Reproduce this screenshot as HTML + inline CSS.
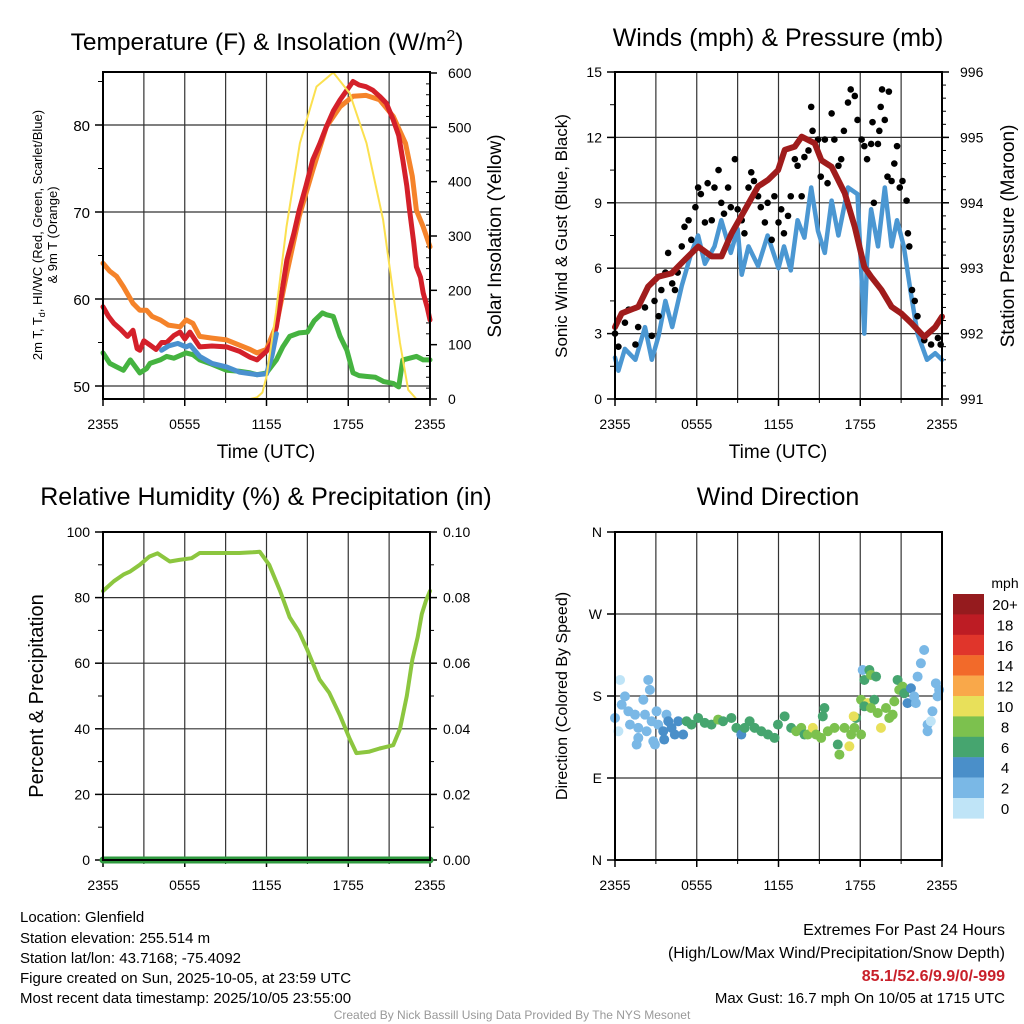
<!DOCTYPE html>
<html><head><meta charset="utf-8">
<style>
html,body{margin:0;padding:0;background:#fff;}
svg{display:block;font-family:"Liberation Sans",sans-serif;}
</style></head>
<body>
<svg id="chart" width="1024" height="1024" viewBox="0 0 1024 1024" xmlns="http://www.w3.org/2000/svg">
<rect x="0" y="0" width="1024" height="1024" fill="#fff"/>
<g id="layer"></g>
<text x="267" y="50" font-size="24.5" text-anchor="middle">Temperature (F) &amp; Insolation (W/m<tspan dy="-9" font-size="16">2</tspan><tspan dy="9">)</tspan></text>
<text x="778" y="46" font-size="25" text-anchor="middle">Winds (mph) &amp; Pressure (mb)</text>
<text x="266" y="505" font-size="25" text-anchor="middle">Relative Humidity (%) &amp; Precipitation (in)</text>
<text x="778" y="505" font-size="25" text-anchor="middle">Wind Direction</text>
<text x="266" y="458" font-size="19" text-anchor="middle">Time (UTC)</text>
<text x="778" y="458" font-size="19" text-anchor="middle">Time (UTC)</text>
<text transform="translate(42,235) rotate(-90)" font-size="13" text-anchor="middle">2m T, T<tspan dy="3" font-size="9">d</tspan><tspan dy="-3">, HI/WC (Red, Green, Scarlet/Blue)</tspan></text>
<text transform="translate(57,235) rotate(-90)" font-size="13" text-anchor="middle">&amp; 9m T (Orange)</text>
<text transform="translate(501,236) rotate(-90)" font-size="19" text-anchor="middle">Solar Insolation (Yellow)</text>
<text transform="translate(567,236) rotate(-90)" font-size="17" text-anchor="middle">Sonic Wind &amp; Gust (Blue, Black)</text>
<text transform="translate(1014,236) rotate(-90)" font-size="19" text-anchor="middle">Station Pressure (Maroon)</text>
<text transform="translate(43,696) rotate(-90)" font-size="20" text-anchor="middle">Percent &amp; Precipitation</text>
<text transform="translate(567,696) rotate(-90)" font-size="16" text-anchor="middle">Direction (Colored By Speed)</text>
<g font-size="15">
<text x="20" y="922">Location: Glenfield</text>
<text x="20" y="943">Station elevation: 255.514 m</text>
<text x="20" y="963">Station lat/lon: 43.7168; -75.4092</text>
<text x="20" y="983">Figure created on Sun, 2025-10-05, at 23:59 UTC</text>
<text x="20" y="1003">Most recent data timestamp: 2025/10/05 23:55:00</text>
</g>
<g font-size="16" text-anchor="end">
<text x="1005" y="935">Extremes For Past 24 Hours</text>
<text x="1005" y="958">(High/Low/Max Wind/Precipitation/Snow Depth)</text>
<text x="1005" y="981" fill="#c8202a" font-weight="bold">85.1/52.6/9.9/0/-999</text>
<text x="1005" y="1003" font-size="15">Max Gust: 16.7 mph On 10/05 at 1715 UTC</text>
</g>
<text x="512" y="1019" font-size="12" fill="#999" text-anchor="middle">Created By Nick Bassill Using Data Provided By The NYS Mesonet</text>
</svg>
<script>
// ---- data ----
const redHours=[0,0.4,0.8,1.3,1.8,2.2,2.5,2.7,3.0,3.45,3.9,4.3,4.67,5.2,5.65,6.0,6.38,6.8,7.1,8.0,9.07,10.0,10.8,11.3,12.0,12.4,12.73,13.1,13.5,14.0,14.4,14.9,15.4,15.9,16.4,16.9,17.4,17.9,18.35,18.8,19.3,19.8,20.3,20.8,21.3,21.7,22.0,22.3,22.5,22.8,23.0,23.3,23.5,23.8,24];
const redTemp=[59.1,58.0,57.2,56.5,55.7,56.4,54.3,54.1,55.2,54.7,54.2,55.0,55.0,55.8,56.2,55.4,56.2,55.2,54.5,54.6,54.5,54.0,53.3,53.0,54.0,55.0,56.8,60.5,64.5,67.5,70.2,73.0,76.0,77.8,79.8,81.6,82.9,84.0,85.0,84.6,84.4,84.0,83.3,82.5,80.6,78.8,76.0,73.0,70.2,66.5,63.7,62.5,60.7,59.0,57.6];
const orangeHours=[0,0.5,1.0,1.5,2.2,2.7,3.2,3.6,4.2,4.8,5.65,6.1,6.6,7.1,8.0,9.07,10.0,10.8,11.3,12.0,12.73,13.5,14.4,15.4,16.4,17.4,18.35,19.3,20.3,21.3,22.2,22.7,23.0,23.5,24];
const orangeTemp=[64.1,63.2,62.6,61.4,59.5,58.7,58.7,58.0,57.6,57.0,56.8,57.6,57.2,55.7,55.5,55.3,54.7,54.2,53.8,54.2,57.0,63.0,69.5,74.8,79.8,82.1,83.3,83.4,82.9,81.0,77.9,74.1,70.2,68.3,66.0];
const greenHours=[0,0.5,1.0,1.5,2.0,2.7,3.2,3.45,4.2,4.67,5.2,6.1,6.6,7.1,8.0,9.07,10.0,10.8,11.3,12.0,12.73,13.2,13.7,14.4,15.0,15.5,16.1,16.4,16.9,17.4,17.9,18.35,18.8,19.3,20.0,20.6,21.3,21.7,22.0,22.5,23.0,23.5,24];
const greenTemp=[53.8,52.6,52.2,51.8,53.0,51.5,52.0,52.6,53.0,53.4,53.2,53.8,53.6,53.0,52.5,51.8,51.7,51.5,51.3,51.5,53.0,54.5,55.7,56.1,56.2,57.5,58.4,58.2,58.0,55.7,54.1,51.5,51.2,51.1,51.0,50.5,50.3,49.9,53.0,53.2,53.4,53.0,53.0];
const blueHours=[4.3,4.8,5.5,6.1,6.4,7.1,8.0,9.07,10.0,11.3,12.0,12.4,12.73];
const blueTemp=[54.1,54.6,54.9,54.5,54.7,53.4,52.6,52.2,51.6,51.3,51.4,53.5,56.0];
const insolHours=[0,10.8,11.3,11.7,12.0,12.7,13.47,14.45,15.67,16.9,18.1,19.34,20.56,21.8,22.4,23.0,24];
const insolValues=[0,0,3,12,41,160,317,471,575,601,563,471,330,103,17,0,0];

const windHours=[0,0.25,0.73,1.5,2.2,2.7,3.2,3.7,4.2,4.9,5.6,6.1,6.6,7.3,7.8,8.5,9.0,9.3,9.8,10.5,11.2,12.0,12.4,12.9,13.4,13.9,14.4,14.9,15.4,15.9,16.4,17.1,17.8,18.3,18.5,18.8,19.3,19.8,20.3,20.7,21.2,21.7,22.2,22.9,23.5,24];
const windMph=[1.9,1.3,2.3,1.8,3.3,1.8,2.9,4.5,3.3,5.2,6.7,7.5,6.2,7.0,8.2,6.7,7.8,5.7,7.0,6.1,7.5,6.0,7.0,5.9,8.2,7.4,9.7,7.7,6.7,9.1,7.5,9.7,9.4,3.0,6.4,8.7,7.0,9.7,7.0,8.2,7.0,4.9,3.0,1.8,2.1,1.8];
const pressHours=[0,0.49,1.71,2.44,3.18,4.15,5.13,6.11,7.1,7.82,8.55,9.53,10.5,11.24,11.97,12.46,13.2,13.7,14.66,15.15,15.9,16.86,17.6,18.3,18.8,19.55,20.3,21.0,21.75,22.7,23.5,24];
const pressMb=[992.1,992.31,992.41,992.72,992.87,992.92,993.13,993.33,993.18,993.18,993.53,993.89,994.25,994.35,994.5,994.81,994.86,995.01,994.91,994.65,994.55,994.15,993.63,993.02,992.87,992.67,992.41,992.31,992.16,991.95,992.1,992.26];
const gustHours=[0,0.25,0.73,1.0,1.5,1.7,2.2,2.7,2.9,3.2,3.4,3.7,3.9,4.2,4.4,4.6,4.9,5.1,5.4,5.6,5.9,6.1,6.3,6.6,6.8,7.1,7.3,7.6,7.8,8.0,8.3,8.5,8.8,9.0,9.3,9.5,9.8,10.0,10.2,10.5,10.7,11.0,11.2,11.5,11.7,12.0,12.2,12.4,12.7,12.9,13.2,13.4,13.7,13.9,14.2,14.4,14.5,14.9,15.1,15.4,15.6,15.9,16.1,16.4,16.6,16.8,17.1,17.3,17.6,17.8,18.1,18.3,18.5,18.8,18.9,19.0,19.3,19.4,19.5,19.6,19.8,20.0,20.1,20.3,20.5,20.7,20.9,21.1,21.4,21.5,21.6,21.8,22.0,22.2,22.7,23.2,23.7,23.9];
const gustMph=[3.0,2.4,3.5,4.1,2.5,3.3,4.2,2.9,4.5,3.8,5.0,5.8,6.7,5.3,5.0,5.8,7.0,7.9,8.2,7.3,8.8,9.7,9.4,8.1,9.9,8.2,9.7,10.5,9.0,8.5,9.7,8.8,11.0,8.7,8.2,7.6,9.7,10.4,10.0,9.3,8.8,8.1,9.0,7.3,9.3,8.1,8.7,7.6,8.4,9.3,11.0,10.7,9.3,11.1,11.4,13.4,12.3,11.9,10.2,11.9,9.9,13.1,11.9,10.7,11.0,12.3,13.6,14.2,13.9,12.8,11.9,11.6,11.0,11.7,12.7,9.0,11.7,12.3,13.4,14.2,12.8,10.2,14.1,10.0,10.8,11.6,9.7,10.0,9.1,7.6,7.0,5.0,4.5,3.8,2.7,2.5,2.8,2.5];

const rhHours=[0,0.8,1.5,2.0,2.7,3.4,4.0,4.9,5.6,6.5,7.1,8.5,10.0,11.0,11.5,12.2,13.0,13.7,14.4,15.0,15.9,16.6,17.4,18.1,18.6,19.5,20.3,21.3,21.8,22.3,22.7,23.1,23.4,23.7,24];
const rhValues=[82,85,87,88,90,92.5,93.5,91,91.5,92,93.6,93.6,93.6,93.8,94,90,82,74,69.5,64,55,51,44,37,32.6,33,34,35,40,50,61,68,75,79,82];
const precipHours=[0,24];
const precipValues=[0,0];

const dirHours=[0.0,0.37,0.25,0.73,0.49,0.98,1.1,1.47,1.71,1.71,1.59,2.08,2.2,2.32,2.44,2.56,2.69,2.81,3.05,2.93,3.17,3.78,3.91,3.54,4.15,4.39,4.64,5.0,3.61,5.25,5.61,6.1,6.59,7.08,7.57,7.93,8.54,8.91,9.27,9.52,9.88,10.25,10.74,11.23,11.71,11.96,12.45,12.93,13.3,13.67,13.91,14.15,14.52,14.76,15.13,15.25,15.37,15.62,16.11,16.35,16.47,16.84,17.2,17.33,17.57,17.69,17.52,18.06,18.06,18.18,18.3,18.67,18.79,18.55,19.03,19.16,18.3,18.79,19.28,19.52,19.89,20.13,20.38,20.5,20.74,20.86,21.11,21.23,21.47,21.72,21.96,22.08,22.21,22.45,22.69,22.94,23.18,23.3,23.55,23.67,23.79,22.94];
const dirDeg=[155.9,197.6,141.3,179.6,170.5,163.2,148.6,159.5,145,134,126.7,175.9,159.5,141.3,197.6,186.7,152.3,130.3,163.2,126.7,148.6,159.5,152.3,141.3,145,137.7,152.3,137.7,132.2,152.3,148.6,155.9,150.5,148.6,154.1,152.3,155.9,145,137.7,145,152.3,145,141.3,137.7,134,148.6,157.7,145,141.3,145,137.7,137.7,145,137.7,134,157.7,166.8,141.3,145,126.7,115.7,145,124.8,137.7,145,155.9,157.7,137.7,175.9,208.5,197.6,208.5,203.1,172.2,175.9,201.3,168.7,166.8,161.4,145,166.8,155.9,159.5,174.1,197.6,186.7,190.3,183,172.2,188.5,179.6,172.2,201.3,215.9,230.5,148.6,152.3,163.2,193.9,179.6,186.7,141.3];
const dirSpeed=[2,0,0,2,2,2,2,2,2,2,2,2,2,2,2,2,2,2,2,2,2,2,4,4,4,4,4,4,4,6,6,6,6,6,8,6,6,6,4,6,6,6,6,6,6,6,6,6,8,8,6,8,10,8,8,6,6,8,8,6,8,8,10,8,8,6,10,8,8,2,6,6,8,10,6,6,6,8,8,10,8,8,8,8,6,8,8,6,4,4,2,2,2,2,2,2,0,2,2,2,2,2];

const speedLabels=["20+","18","16","14","12","10","8","6","4","2","0"];
const speedColors=["#951b1e","#bd1c24","#e0352b","#f26a2a","#f9a84a","#e8e05a","#7cc14e","#46a56f","#4a8fc9","#7ab8e6","#bfe4f7"];
const timeTickLabels=["2355","0555","1155","1755","2355"];
const tempTicks=[50,60,70,80];
const insolTicks=[0,100,200,300,400,500,600];
const windTicks=[0,3,6,9,12,15];
const pressTicks=[991,992,993,994,995,996];
const rhTicks=[0,20,40,60,80,100];
const precipTickLabels=["0.00","0.02","0.04","0.06","0.08","0.10"];
const dirTickLabels=["N","E","S","W","N"];

const NS="http://www.w3.org/2000/svg";
const layer=document.getElementById('layer');
function mk(tag,attrs,parent){const e=document.createElementNS(NS,tag);for(const k in attrs)e.setAttribute(k,attrs[k]);(parent||layer).appendChild(e);return e;}
function lin(d0,d1,r0,r1){return v=>r0+(v-d0)/(d1-d0)*(r1-r0);}
function line(x1,y1,x2,y2,c,w,p){return mk('line',{x1:x1,y1:y1,x2:x2,y2:y2,stroke:c,'stroke-width':w},p);}
function txt(x,y,s,size,anchor,p){const t=mk('text',{x:x,y:y,'font-size':size,'text-anchor':anchor},p);t.textContent=s;return t;}
function poly(xs,ys,fx,fy,color,w,p){let d='';for(let i=0;i<xs.length;i++)d+=(i?'L':'M')+fx(xs[i]).toFixed(1)+' '+fy(ys[i]).toFixed(1);return mk('path',{d:d,fill:'none',stroke:color,'stroke-width':w,'stroke-linejoin':'round','stroke-linecap':'round'},p);}

function frame(P,g){
  for(let h=3;h<24;h+=3){line(P.fx(h),P.y0,P.fx(h),P.y1,'#333',1.2,g);}
  for(let i=0;i<timeTickLabels.length;i++){const x=P.fx(i*6);line(x,P.y1,x,P.y1+7,'#000',1.5,g);txt(x,P.y1+30,timeTickLabels[i],14,'middle',g);}
  for(let h=3;h<24;h+=6){line(P.fx(h),P.y1,P.fx(h),P.y1+4,'#000',1,g);}
}
function border(P,g){mk('rect',{x:P.x0,y:P.y0,width:P.x1-P.x0,height:P.y1-P.y0,fill:'none',stroke:'#000','stroke-width':2},g);}

// ---- panel 1 ----
const P1={x0:103,x1:430,y0:72,y1:399};P1.fx=lin(0,24,P1.x0,P1.x1);P1.fy=lin(50,80,386,125);P1.fr=lin(0,600,399,73);
const g1=mk('g',{});


frame(P1,g1);
tempTicks.forEach(v=>{const y=P1.fy(v);line(P1.x0,y,P1.x1,y,'#333',1.2,g1);line(P1.x0-8,y,P1.x0,y,'#000',1.5,g1);txt(P1.x0-13,y+6,String(v),15,'end',g1);});
for(let v=55;v<=85;v+=10){const y=P1.fy(v);line(P1.x0-5,y,P1.x0,y,'#000',1,g1);}
insolTicks.forEach(v=>{const y=P1.fr(v);line(P1.x1,y,P1.x1+7,y,'#000',1.5,g1);txt(P1.x1+18,y+5,String(v),14,'start',g1);});
for(let v=20;v<600;v+=20){if(v%100){const y=P1.fr(v);line(P1.x1,y,P1.x1-4,y,'#000',1,g1);}}
const sOr=poly(orangeHours,orangeTemp,P1.fx,P1.fy,'#f5832a',5,g1);


const sRd=poly(redHours,redTemp,P1.fx,P1.fy,'#d4202a',5,g1);


const sGr=poly(greenHours,greenTemp,P1.fx,P1.fy,'#45b340',5,g1);


const sBl=poly(blueHours,blueTemp,P1.fx,P1.fy,'#4a90cf',5,g1);


const sYe=poly(insolHours,insolValues,P1.fx,P1.fr,'#fbe04f',2,g1);


border(P1,g1);

// ---- panel 2 ----
const P2={x0:615,x1:942,y0:72,y1:399};P2.fx=lin(0,24,P2.x0,P2.x1);P2.fy=lin(0,15,399,72);P2.fr=lin(991,996,399,72);
const g2=mk('g',{});


frame(P2,g2);
windTicks.forEach(v=>{const y=P2.fy(v);if(v>0&&v<15)line(P2.x0,y,P2.x1,y,'#333',1.2,g2);line(P2.x0-8,y,P2.x0,y,'#000',1.5,g2);txt(P2.x0-13,y+5,String(v),14,'end',g2);});
for(let v=1.5;v<15;v+=3){const y=P2.fy(v);line(P2.x0-5,y,P2.x0,y,'#000',1,g2);}
pressTicks.forEach(v=>{const y=P2.fr(v);line(P2.x1,y,P2.x1+7,y,'#000',1.5,g2);txt(P2.x1+18,y+5,String(v),14,'start',g2);});
for(let v=991.2;v<996;v+=0.2){const y=P2.fr(v);line(P2.x1,y,P2.x1+4,y,'#000',1,g2);}
const sW=poly(windHours,windMph,P2.fx,P2.fy,'#4b97d2',4.5,g2);


const gg=mk('g',{},g2);


for(let i=0;i<gustHours.length;i++){const c=mk('circle',{cx:P2.fx(gustHours[i]),cy:P2.fy(gustMph[i]),r:3.3,fill:'#000'},gg);

}
const sP=poly(pressHours,pressMb,P2.fx,P2.fr,'#a01c1c',6,g2);


border(P2,g2);

// ---- panel 3 ----
const P3={x0:103,x1:430,y0:532,y1:860};P3.fx=lin(0,24,P3.x0,P3.x1);P3.fy=lin(0,100,860,532);
const g3=mk('g',{});


frame(P3,g3);
rhTicks.forEach((v,i)=>{const y=P3.fy(v);if(v>0&&v<100)line(P3.x0,y,P3.x1,y,'#333',1.2,g3);line(P3.x0-8,y,P3.x0,y,'#000',1.5,g3);txt(P3.x0-13,y+5,String(v),14,'end',g3);line(P3.x1,y,P3.x1+7,y,'#000',1.5,g3);txt(P3.x1+13,y+5,precipTickLabels[i],14,'start',g3);});
for(let v=10;v<100;v+=20){const y=P3.fy(v);line(P3.x0-5,y,P3.x0,y,'#000',1,g3);line(P3.x1,y,P3.x1+4,y,'#000',1,g3);}
const sRH=poly(rhHours,rhValues,P3.fx,P3.fy,'#8cc63f',4,g3);


const sPr=poly(precipHours,precipValues,P3.fx,v=>P3.fy(v*1000),'#2f9a3f',7,g3);


border(P3,g3);

// ---- panel 4 ----
const P4={x0:615,x1:942,y0:532,y1:860};P4.fx=lin(0,24,P4.x0,P4.x1);P4.fy=lin(0,360,860,532);
const g4=mk('g',{});


frame(P4,g4);
dirTickLabels.forEach((s,i)=>{const y=P4.fy(i*90);if(i>0&&i<4)line(P4.x0,y,P4.x1,y,'#333',1.2,g4);line(P4.x0-8,y,P4.x0,y,'#000',1.5,g4);txt(P4.x0-13,y+5,s,14,'end',g4);});
const dg=mk('g',{},g4);


for(let i=0;i<dirHours.length;i++){const idx=10-Math.min(10,Math.round(dirSpeed[i]/2));
const c=mk('circle',{cx:P4.fx(dirHours[i]),cy:P4.fy(dirDeg[i]),r:5,fill:speedColors[idx]},dg);

}
border(P4,g4);

const cb=mk('g',{});


txt(1005,588,'mph',14,'middle',cb);
speedLabels.forEach((s,i)=>{const y=594+i*20.4;const r=mk('rect',{x:953,y:y,width:31,height:20.6,fill:speedColors[i]},cb);


txt(1005,y+16,s,15,'middle',cb);});
</script>
</body></html>
